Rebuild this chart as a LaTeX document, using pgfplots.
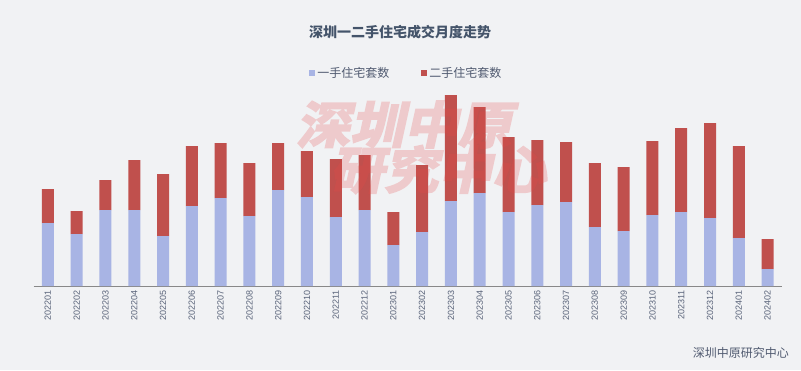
\documentclass[border=0pt]{standalone}
\usepackage{fontspec}
\setmainfont{Liberation Sans}
\newfontfamily\cjk{Noto Sans CJK SC}
\newfontfamily\wm[FakeSlant=0.22,FakeBold=4,FakeStretch=1.08]{Noto Sans CJK SC Bold}
\usepackage{pgfplots}
\pgfplotsset{compat=1.18}
\definecolor{bg}{RGB}{241,242,244}
\definecolor{newc}{RGB}{168,180,228}
\definecolor{oldc}{RGB}{192,80,77}
\definecolor{titlec}{RGB}{68,84,106}
\definecolor{legc}{RGB}{80,90,112}
\definecolor{tickc}{RGB}{90,100,122}
\definecolor{axisc}{RGB}{136,136,136}
\definecolor{wmc}{RGB}{232,72,72}
\begin{document}
\begin{tikzpicture}
\fill[bg] (0,0) rectangle (801pt,370pt);
\begin{axis}[
  at={(33.5pt,84pt)}, anchor=south west,
  scale only axis, width=748.5pt, height=196pt,
  xmin=-0.5, xmax=25.5, ymin=0, ymax=9800,
  ybar stacked, bar width=12pt,
  axis y line=none, axis x line=bottom,
  x axis line style={-, draw=axisc, line width=1pt},
  major tick length=0pt,
  xtick={0,...,25},
  xticklabels={202201,202202,202203,202204,202205,202206,202207,202208,202209,202210,202211,202212,202301,202302,202303,202304,202305,202306,202307,202308,202309,202310,202311,202312,202401,202402},
  xticklabel style={rotate=90, anchor=east, inner xsep=4pt, inner ysep=0pt, font=\fontsize{9}{9}\selectfont, text=tickc},
  legend style={at={(0.498,1.087)}, anchor=center, draw=none, fill=none,
    legend columns=2, font=\cjk\fontsize{12}{12}\selectfont, text=legc,
    /tikz/every even column/.append style={column sep=30pt}},
  legend image code/.code={\fill[#1] (0pt,-3pt) rectangle (6pt,3pt);},
]
\addplot[fill=newc, draw=none] coordinates {
(0,3150) (1,2600) (2,3800) (3,3800) (4,2500) (5,4000) (6,4400) (7,3500) (8,4800) (9,4450)
(10,3450) (11,3800) (12,2050) (13,2700) (14,4250) (15,4650) (16,3700) (17,4050) (18,4200) (19,2950)
(20,2750) (21,3550) (22,3700) (23,3400) (24,2400) (25,850)};
\addlegendentry{一手住宅套数}
\addplot[fill=oldc, draw=none] coordinates {
(0,1700) (1,1150) (2,1500) (3,2500) (4,3100) (5,3000) (6,2750) (7,2650) (8,2350) (9,2300)
(10,2900) (11,2750) (12,1650) (13,3350) (14,5300) (15,4300) (16,3750) (17,3250) (18,3000) (19,3200)
(20,3200) (21,3700) (22,4200) (23,4750) (24,4600) (25,1500)};
\addlegendentry{二手住宅套数}
\end{axis}
\begin{scope}[transparency group, opacity=0.23]
\node[text=wmc, font=\wm\fontsize{50}{50}\selectfont] at (404pt,245.5pt) {深圳中原};
\node[text=wmc, font=\wm\fontsize{50}{50}\selectfont] at (438pt,200.5pt) {研究中心};
\end{scope}
\node[text=titlec, font=\cjk\bfseries\fontsize{14}{14}\selectfont] at (400pt,338pt) {深圳一二手住宅成交月度走势};
\node[text=legc, anchor=east, inner sep=0pt, font=\cjk\fontsize{12}{12}\selectfont] at (789pt,17pt) {深圳中原研究中心};
\end{tikzpicture}
\end{document}
